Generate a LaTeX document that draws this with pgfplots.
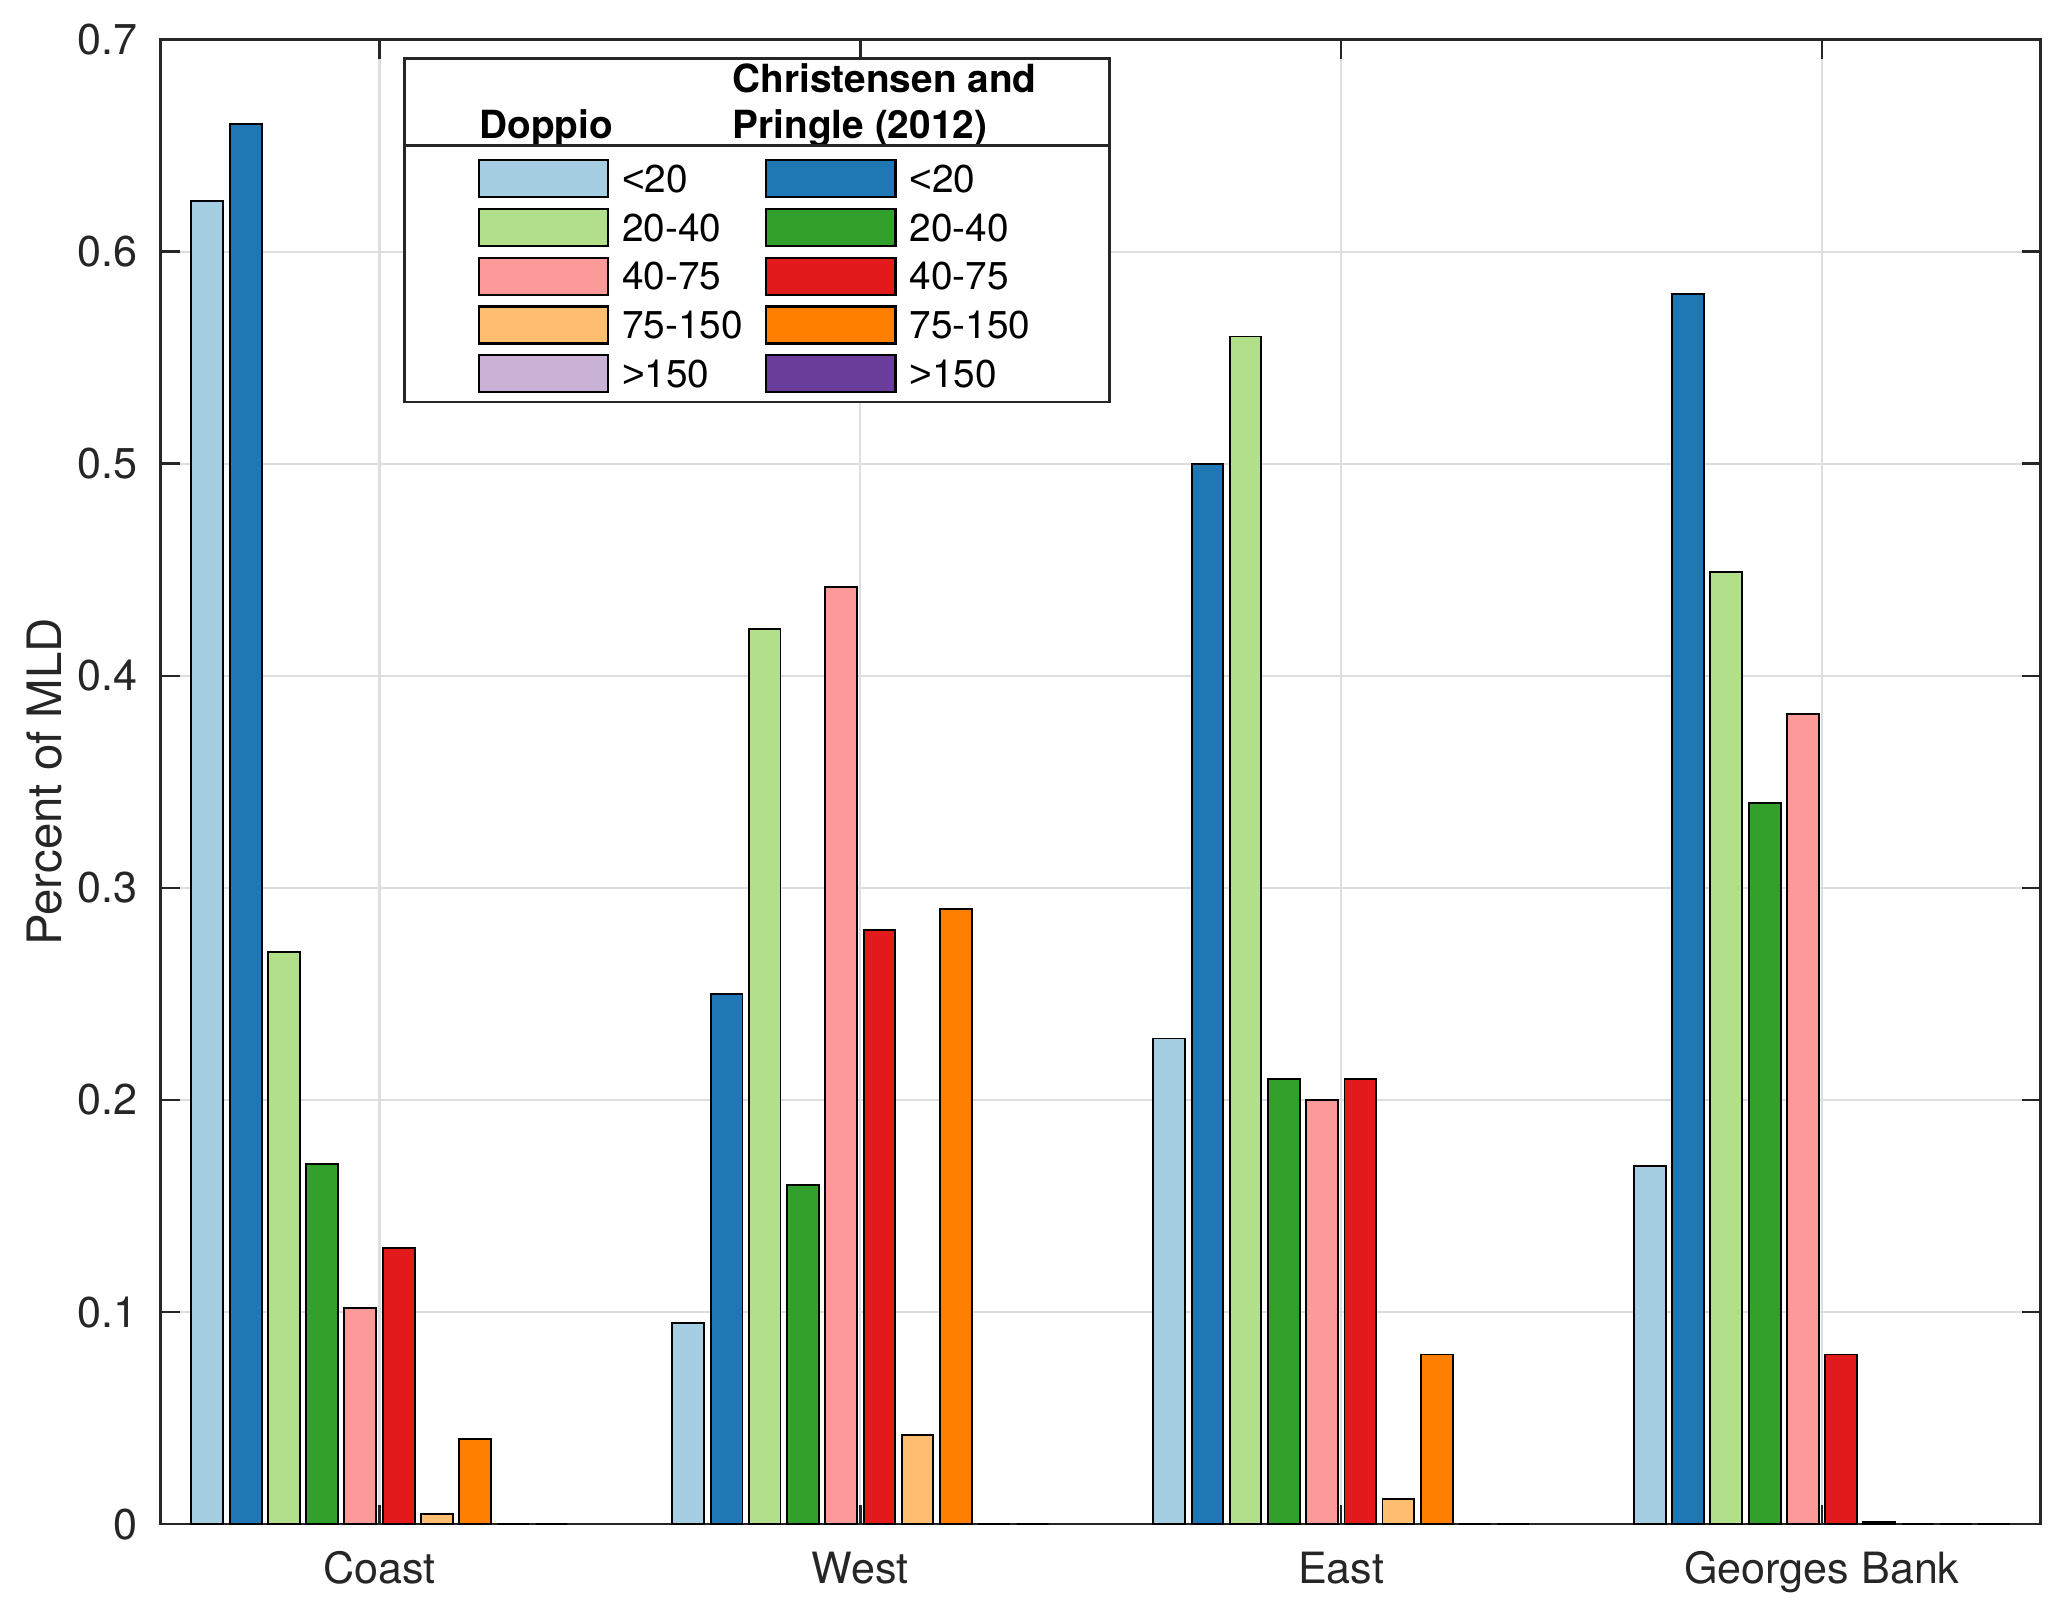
\documentclass[border=0pt]{standalone}
\usepackage{fontspec}
\setmainfont{TeX Gyre Heros}
\newfontfamily\libfont{Liberation Sans}
\usepackage{pgfplots}
\pgfplotsset{compat=1.18}
\definecolor{c1}{HTML}{A6CEE3}
\definecolor{c2}{HTML}{1F78B4}
\definecolor{c3}{HTML}{B2DF8A}
\definecolor{c4}{HTML}{33A02C}
\definecolor{c5}{HTML}{FB9A99}
\definecolor{c6}{HTML}{E31A1C}
\definecolor{c7}{HTML}{FDBF6F}
\definecolor{c8}{HTML}{FF7F00}
\definecolor{c9}{HTML}{CAB2D6}
\definecolor{c10}{HTML}{6A3D9A}
\definecolor{axgray}{HTML}{262626}
\newcommand{\lt}{{\libfont <}}
\newcommand{\gt}{{\libfont >}}
\pgfplotsset{
  mybar/.style={fill=#1, draw=black, line width=0.45pt,
    legend image code/.code={\draw[##1, line width=0.5pt] (0pt,-1.13pt) rectangle (30pt,7.47pt);}},
}
\begin{document}
\begin{tikzpicture}
\begin{axis}[
  name=ax,
  scale only axis, width=436.4pt, height=344.6pt,
  xmin=0.545, xmax=4.455, ymin=0, ymax=0.7,
  enlarge x limits=false,
  ybar, bar width=0.066,
  xtick={1,2,3,4}, xticklabels={Coast,West,East,Georges Bank},
  ytick={0,0.1,0.2,0.3,0.4,0.5,0.6,0.7},
  yticklabels={0,0.1,0.2,0.3,0.4,0.5,0.6,0.7},
  grid=major, major grid style={black!13, line width=0.5pt},
  axis line style={axgray, line width=0.6pt},
  tick style={axgray, line width=0.6pt}, major tick length=4.4pt,
  tick align=inside,
  ticklabel style={font=\fontsize{10}{12}\selectfont, text=axgray},
  yticklabel style={inner sep=0pt, xshift=-5.2pt},
  xticklabel style={inner sep=0pt, yshift=-6.2pt},
  ylabel={Percent of MLD},
  every axis y label/.style={at={(rel axis cs:0,0.5)}, xshift=-26.9pt, rotate=90, anchor=center,
    font=\fontsize{11}{13}\selectfont, text=axgray},
  legend columns=2,
  legend style={name=leg, at={(0.129,0.988)}, anchor=north west, draw=axgray, line width=0.6pt,
    fill=white, font=\fontsize{9}{10.7}\selectfont, text=black,
    inner xsep=17pt, inner ysep=0.3pt, row sep=1.6pt, column sep=3pt,
    cells={anchor=base west},
    nodes={inner sep=0pt, text height=6.6pt, text depth=2pt},
    /tikz/every even column/.append style={column sep=5.2pt}},
]
\addlegendimage{empty legend}
\addlegendentry[text height={}, text depth={}]{\hspace*{-36.2pt}\textbf{Doppio}}
\addlegendimage{empty legend}
\addlegendentry[text height={}, text depth={}]{\hspace*{-41pt}\begin{tabular}[b]{@{}l@{}}\bfseries Christensen and\\\bfseries Pringle (2012)\end{tabular}}

\addplot[mybar=c1, bar shift=-0.358] coordinates {(1,0.624) (2,0.095) (3,0.229) (4,0.169)};
\addlegendentry{\lt20}
\addplot[mybar=c2, bar shift=-0.278] coordinates {(1,0.66) (2,0.25) (3,0.50) (4,0.58)};
\addlegendentry{\lt20}
\addplot[mybar=c3, bar shift=-0.199] coordinates {(1,0.27) (2,0.422) (3,0.56) (4,0.449)};
\addlegendentry{20-40}
\addplot[mybar=c4, bar shift=-0.119] coordinates {(1,0.17) (2,0.16) (3,0.21) (4,0.34)};
\addlegendentry{20-40}
\addplot[mybar=c5, bar shift=-0.040] coordinates {(1,0.102) (2,0.442) (3,0.20) (4,0.382)};
\addlegendentry{40-75}
\addplot[mybar=c6, bar shift=0.040] coordinates {(1,0.13) (2,0.28) (3,0.21) (4,0.08)};
\addlegendentry{40-75}
\addplot[mybar=c7, bar shift=0.119] coordinates {(1,0.005) (2,0.042) (3,0.012) (4,0.001)};
\addlegendentry{75-150}
\addplot[mybar=c8, bar shift=0.199] coordinates {(1,0.04) (2,0.29) (3,0.08) (4,0)};
\addlegendentry{75-150}
\addplot[mybar=c9, bar shift=0.278] coordinates {(1,0) (2,0) (3,0) (4,0)};
\addlegendentry[text depth=3.1pt]{\gt150}
\addplot[mybar=c10, bar shift=0.358] coordinates {(1,0) (2,0) (3,0) (4,0)};
\addlegendentry[text depth=3.1pt]{\gt150}
\end{axis}
\draw[axgray, line width=0.6pt] ([yshift=-20.5pt]leg.north west) -- ([yshift=-20.5pt]leg.north east);
\pgfresetboundingbox
\path[use as bounding box] ([shift={(-37.3pt,-21.4pt)}]ax.south west) rectangle ([shift={(6.1pt,9.2pt)}]ax.north east);
\end{tikzpicture}
\end{document}
